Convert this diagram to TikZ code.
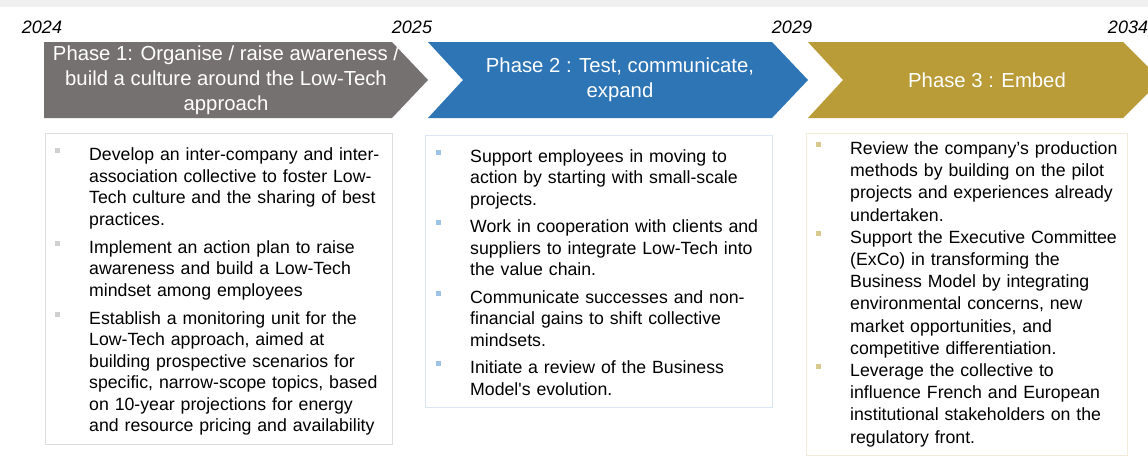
\documentclass[tikz,border=0pt]{standalone}
\usepackage{fontspec}
\setmainfont{Liberation Sans}[Ligatures=TeXOff]
% phase colours
\definecolor{topgray}{HTML}{F0F0F0}
\definecolor{phasegray}{HTML}{767171}
\definecolor{phaseblue}{HTML}{2E75B6}
\definecolor{phasegold}{HTML}{B99C38}
% list box borders and bullets
\definecolor{grayedge}{HTML}{DCDCDC}
\definecolor{blueedge}{HTML}{DAE6F3}
\definecolor{goldedge}{HTML}{F0EBDA}
\definecolor{graybul}{HTML}{D0D0D0}
\definecolor{bluebul}{HTML}{9DC3E6}
\definecolor{goldbul}{HTML}{D8C98E}
% square bullet hung to the left of the text column
\newcommand{\bitem}[1]{\leavevmode\llap{\textcolor{#1}{\rule[7.5pt]{5pt}{5pt}}\hspace{29.5pt}}}
\begin{document}
\begin{tikzpicture}[x=1pt,y=-1pt,
  phasetext/.style={text=white, align=center, inner sep=0,
    font=\fontsize{20.3}{25}\selectfont},
  year/.style={inner sep=0, font=\fontsize{18}{20}\selectfont\itshape},
  listbox/.style={draw=#1, line width=1pt, anchor=north west, inner sep=0},
  listtext/.style={anchor=north west, inner sep=0, text width=330pt,
    align=left, font=\fontsize{17.7}{21.5}\selectfont}
]
\useasboundingbox (0,0) rectangle (1148,466);
\fill[white] (0,0) rectangle (1148,466);
\fill[topgray] (0,0) rectangle (1148,6.5);

% years along the timeline
\node[year] (y2024) at (42,27) {2024};
\node[year] (y2025) at (412,27) {2025};
\node[year] (y2029) at (792,27) {2029};
\node[year] (y2034) at (1128,27) {2034};

% phase chevrons
\fill[phasegray] (44,42) -- (392,42) -- (428,80) -- (392,118) -- (44,118) -- cycle;
\fill[phaseblue] (428,42) -- (772,42) -- (808,80) -- (772,118) -- (428,118) -- (463,80) -- cycle;
\fill[phasegold] (808,42) -- (1123,42) -- (1161,80) -- (1123,118) -- (808,118) -- (843,80) -- cycle;

\node[phasetext] (p1) at (226,80) {Phase 1: Organise / raise awareness /\\build a culture around the Low-Tech\\approach};
\node[phasetext] (p2) at (620,80) {Phase 2 : Test, communicate,\\expand};
\node[phasetext] (p3) at (987,80) {Phase 3 : Embed};

% action lists
\node[listbox=grayedge, minimum width=347pt, minimum height=311pt] (box1) at (44.5,132.5) {};
\node[listbox=blueedge, minimum width=347pt, minimum height=272pt] (box2) at (424.5,134.5) {};
\node[listbox=goldedge, minimum width=321pt, minimum height=322pt] (box3) at (805.5,132.5) {};

\node[listtext] (t1) at ([xshift=44.5pt,yshift=-15pt]box1.north west) {%
\bitem{graybul}Develop an inter-company and inter-\\
association collective to foster Low-\\
Tech culture and the sharing of best\\
practices.\\[6.5pt]
\bitem{graybul}Implement an action plan to raise\\
awareness and build a Low-Tech\\
mindset among employees\\[6.5pt]
\bitem{graybul}Establish a monitoring unit for the\\
Low-Tech approach, aimed at\\
building prospective scenarios for\\
specific, narrow-scope topics, based\\
on 10-year projections for energy\\
and resource pricing and availability};

\node[listtext] (t2) at ([xshift=45.5pt,yshift=-14.5pt]box2.north west) {%
\bitem{bluebul}Support employees in moving to\\
action by starting with small-scale\\
projects.\\[6pt]
\bitem{bluebul}Work in cooperation with clients and\\
suppliers to integrate Low-Tech into\\
the value chain.\\[6pt]
\bitem{bluebul}Communicate successes and non-\\
financial gains to shift collective\\
mindsets.\\[6pt]
\bitem{bluebul}Initiate a review of the Business\\
Model's evolution.};

\node[listtext, font=\fontsize{17.7}{22.2}\selectfont] (t3) at ([xshift=44.5pt,yshift=-9pt]box3.north west) {%
\bitem{goldbul}Review the company’s production\\
methods by building on the pilot\\
projects and experiences already\\
undertaken.\\
\bitem{goldbul}Support the Executive Committee\\
(ExCo) in transforming the\\
Business Model by integrating\\
environmental concerns, new\\
market opportunities, and\\
competitive differentiation.\\
\bitem{goldbul}Leverage the collective to\\
influence French and European\\
institutional stakeholders on the\\
regulatory front.};
\end{tikzpicture}
\end{document}
